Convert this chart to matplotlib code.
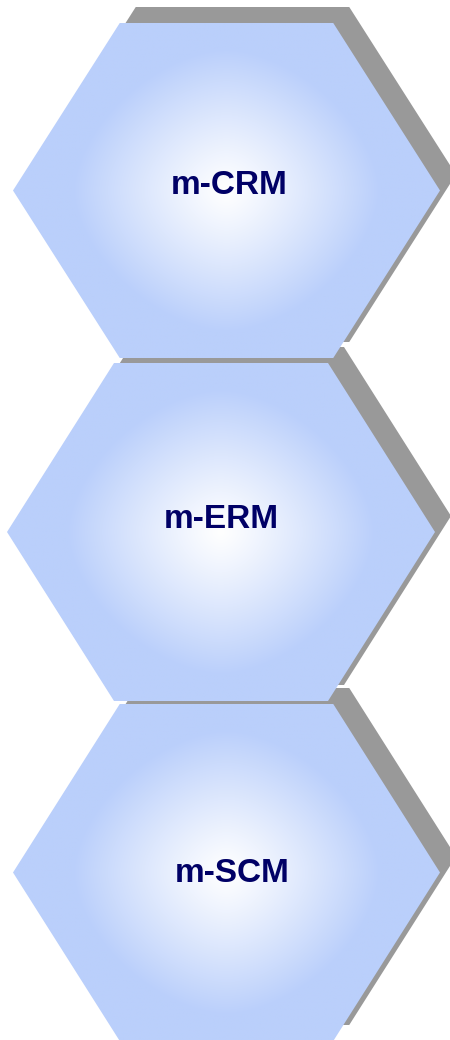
import matplotlib
matplotlib.use("Agg")
import matplotlib.pyplot as plt
from matplotlib.patches import Polygon
import numpy as np

# labels of the three stacked hexagons
labels = ["m-CRM", "m-ERM", "m-SCM"]

# layout (pixels, y measured from the top)
centers_x = [226.5, 221.0, 226.5]
centers_y = [190.5, 532.0, 872.5]
half_w = [213.5, 214.0, 213.5]
half_h = [167.5, 169.0, 168.5]
text_x = [228.7, 221.7, 231.7]
text_y = [185.0, 520.0, 873.0]

shadow_dx, shadow_dy = 16, -16
edge_blue = np.array([186, 207, 251]) / 255.0
white = np.array([1.0, 1.0, 1.0])


def hex_points(cx, cy, w, h):
    return [(cx - w, cy), (cx - w / 2, cy - h), (cx + w / 2, cy - h),
            (cx + w, cy), (cx + w / 2, cy + h), (cx - w / 2, cy + h)]


fig = plt.figure(figsize=(4.5, 10.4), dpi=100)
ax = fig.add_axes([0, 0, 1, 1])
ax.set_xlim(0, 450)
ax.set_ylim(1040, 0)
ax.axis("off")

# shadows first, so every hexagon sits above all shadows
for cx, cy, w, h in zip(centers_x, centers_y, half_w, half_h):
    pts = [(x + shadow_dx, y + shadow_dy) for x, y in hex_points(cx, cy, w, h)]
    ax.add_patch(Polygon(pts, closed=True, facecolor="#999999", edgecolor="none", zorder=1))

for i, (cx, cy, w, h) in enumerate(zip(centers_x, centers_y, half_w, half_h)):
    pts = hex_points(cx, cy, w, h)
    poly = Polygon(pts, closed=True, facecolor="none", edgecolor="none", zorder=2)
    ax.add_patch(poly)

    xs = np.linspace(cx - w, cx + w, 300)
    ys = np.linspace(cy - h, cy + h, 240)
    X, Y = np.meshgrid(xs, ys)
    p = 1.7
    r = (np.abs((X - cx) / (0.85 * w)) ** p + np.abs((Y - cy) / h) ** p) ** (1 / p)
    t = np.clip(r / 0.85, 0, 1) ** 1.1
    img = white * (1 - t[..., None]) + edge_blue * t[..., None]
    im = ax.imshow(img, extent=(cx - w, cx + w, cy + h, cy - h), origin="upper",
                   interpolation="bilinear", zorder=2)
    im.set_clip_path(poly)

    ax.text(text_x[i], text_y[i], labels[i], ha="center", va="center",
            fontsize=24, fontweight="bold", family=["Liberation Sans", "DejaVu Sans"],
            color="#000066", zorder=3)

fig.savefig("out.png", dpi=100)
